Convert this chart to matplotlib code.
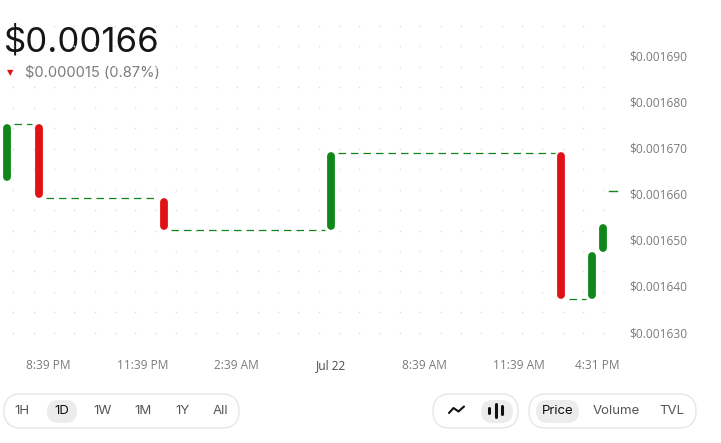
import matplotlib
matplotlib.use("Agg")
import matplotlib.pyplot as plt
from matplotlib.patches import FancyBboxPatch
import numpy as np

# --------------------------------------------------------------------
# DATA
# --------------------------------------------------------------------

# candle times, in hours after 8:39 PM
times = [-1.3, -0.3, 3.7, 9.02, 16.35, 17.34, 17.66]
opens = [0.0016628, 0.0016751, 0.0016591, 0.0016521, 0.0016689, 0.0016372, 0.0016474]
closes = [0.0016751, 0.0016591, 0.0016521, 0.0016689, 0.0016372, 0.0016473, 0.0016534]
last_time = 18.0
last_price = 0.0016605

tick_hours = [0, 3, 6, 9, 12, 15, 17.5]
tick_labels = ['8:39 PM', '11:39 PM', '2:39 AM', 'Jul 22', '8:39 AM', '11:39 AM', '4:31 PM']
price_ticks = [0.00163, 0.00164, 0.00165, 0.00166, 0.00167, 0.00168, 0.00169]

price_now = '$0.00166'
change_text = '$0.000015 (0.87%)'
ranges = ['1H', '1D', '1W', '1M', '1Y', 'All']
modes = ['Price', 'Volume', 'TVL']

GREEN = '#0f871a'
RED = '#e01216'
GREY = '#7b7b7b'

# --------------------------------------------------------------------
# FIGURE
# --------------------------------------------------------------------

W, H = 721, 443
fig = plt.figure(figsize=(W / 100, H / 100), dpi=100)
fig.patch.set_facecolor('white')

# main chart area (pixels: x 0..620, y 15..345)
ax = fig.add_axes([0, 1 - 345 / H, 620 / W, 330 / H])
ax.set_xlim(-1.529, 18.217)
ylo, yhi = 0.0016272, 0.0016987
ax.set_ylim(ylo, yhi)
for s in ax.spines.values():
    s.set_visible(False)
ax.set_facecolor('none')

# dot grid
gx = (13.3 + 20.35 * np.arange(30)) / 620
gy = (345 - (26 + 20.45 * np.arange(16))) / 330
GX, GY = np.meshgrid(gx, gy)
ax.scatter(GX.ravel(), GY.ravel(), marker='+', s=3, linewidths=0.5,
           color='#e2e2e2', transform=ax.transAxes, zorder=0)

# candles
lw = 5.6
r = (lw / 72 * 100 / 2) * (yhi - ylo) / 330   # round cap radius in data units
for t, o, c in zip(times, opens, closes):
    col = GREEN if c >= o else RED
    lo, hi = min(o, c), max(o, c)
    ax.plot([t, t], [lo + r, hi - r], color=col, lw=lw,
            solid_capstyle='round', zorder=3)

# dashed connectors close -> next open
for i in range(len(times) - 1):
    if times[i + 1] - times[i] > 0.5:
        ax.plot([times[i] + 0.23, times[i + 1] - 0.2], [closes[i], opens[i + 1]],
                color=GREEN, lw=0.9, dashes=(6, 4), zorder=2)
ax.plot([last_time - 0.12, last_time + 0.12], [last_price, last_price],
        color=GREEN, lw=1.0, zorder=2)

# axes ticks
ax.set_xticks(tick_hours)
ax.set_xticklabels(tick_labels)
ax.yaxis.tick_right()
ax.set_yticks(price_ticks)
ax.set_yticklabels(['$%.6f' % v for v in price_ticks])
ax.tick_params(axis='both', length=0, labelsize=8.6, labelcolor=GREY)
ax.tick_params(axis='x', pad=10)
ax.tick_params(axis='y', pad=7)
for lab in ax.get_xticklabels() + ax.get_yticklabels():
    lab.set_family('Open Sans')
ax.get_xticklabels()[3].set_color('#4a4a4a')

# overlay in pixel coordinates for header and buttons
ov = fig.add_axes([0, 0, 1, 1], zorder=-1)
ov.set_xlim(0, W)
ov.set_ylim(H, 0)
ov.axis('off')

ov.text(4, 51, price_now, fontsize=25, family='Inter', color='#161616', va='baseline')
ov.text(7, 73, '\u25BC', fontsize=6, family='DejaVu Sans', color=RED, va='center')
ov.text(25, 73, change_text, fontsize=10.6, family='Inter', color=GREY, va='center')


def pill(x0, y0, x1, y1, face='white', edge='#e6e6e6'):
    h = y1 - y0
    ov.add_patch(FancyBboxPatch((x0, y0), x1 - x0, h,
                                boxstyle='round,pad=0,rounding_size=%f' % (h / 2),
                                facecolor=face, edgecolor=edge, lw=1.0))


# time range selector
pill(4, 394, 239, 428)
pill(47, 400, 77, 423, face='#ececec', edge='none')
for lab, x in zip(ranges, [22, 62, 103, 143, 182, 220]):
    ov.text(x, 411.5, lab, fontsize=9.5, family='Inter', ha='center', va='center',
            color='#111111' if lab == '1D' else '#555555')

# chart type selector
pill(433, 394, 518, 428)
pill(481, 400, 513, 423, face='#ececec', edge='none')
ov.plot([449, 453.5, 458.5, 464], [413, 408, 411.5, 406.5], color='#111111', lw=1.5,
        solid_capstyle='round', solid_joinstyle='round')
for x, a, b in [(489, 408, 413), (495.5, 404, 417), (502, 405.5, 413.5)]:
    ov.plot([x, x], [a, b], color='#111111', lw=2.2, solid_capstyle='round')

# data selector
pill(529, 394, 696, 428)
pill(536, 400, 579, 423, face='#ececec', edge='none')
for lab, x in zip(modes, [557.5, 616, 672]):
    ov.text(x, 411.5, lab, fontsize=9.5, family='Inter', ha='center', va='center',
            color='#111111' if lab == 'Price' else '#555555')

fig.savefig('out.png', dpi=100, facecolor='white')
